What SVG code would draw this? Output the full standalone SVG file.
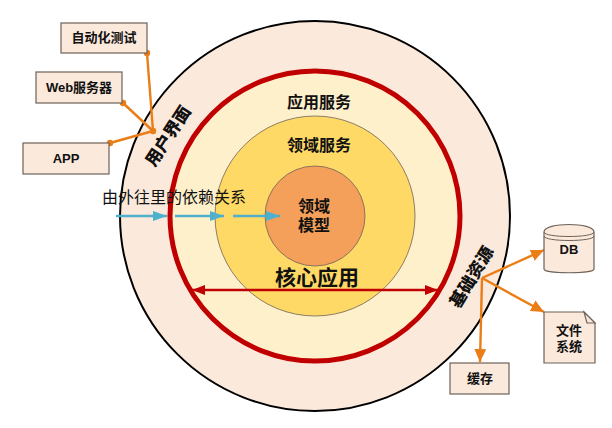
<svg xmlns="http://www.w3.org/2000/svg" width="612" height="428" viewBox="0 0 612 428">
<style>
text{font-family:"Liberation Sans","Noto Sans CJK SC",sans-serif;fill:#111;text-anchor:middle}
.b{font-weight:700;font-size:13px}
.m{font-weight:700;font-size:16px}
.r{font-weight:900;font-size:17px}
.box{fill:#fbe9dc;stroke:#6e6259;stroke-width:1.2}
.o{stroke:#ea7d16;stroke-width:2.4;fill:none}
.bl{stroke:#4fb0cc;stroke-width:2.4;fill:none}
</style>
<defs>
<marker id="ao" markerUnits="userSpaceOnUse" markerWidth="14" markerHeight="14" refX="13" refY="6" orient="auto"><path d="M0 0L13 6L0 12Z" fill="#ea7d16"/></marker>
<marker id="ab" markerUnits="userSpaceOnUse" markerWidth="15" markerHeight="12" refX="14" refY="5" orient="auto"><path d="M0 0L14 5L0 10Z" fill="#4fb0cc"/></marker>
<marker id="ar" markerUnits="userSpaceOnUse" markerWidth="15" markerHeight="12" refX="13" refY="5" orient="auto-start-reverse"><path d="M0 0L13 5L0 10Z" fill="#c00000"/></marker>
</defs>
<g id="ring-outer"><circle cx="315" cy="216" r="195" fill="#fbe9dc" stroke="#000" stroke-width="2"/></g>
<g id="ring-core"><circle cx="315" cy="216" r="145" fill="#fff0cc" stroke="#c00000" stroke-width="5"/></g>
<g id="ring-domain"><circle cx="315" cy="216" r="100" fill="#ffd966" stroke="#6e6259" stroke-width="0.8"/></g>
<g id="node-model"><circle cx="315" cy="216" r="50" fill="#f4a05a" stroke="#6e6259" stroke-width="0.8"/>
<text class="m" x="314" y="212">领域</text><text class="m" x="314" y="231">模型</text></g>
<text class="m" x="319" y="108">应用服务</text>
<text class="m" x="319" y="151">领域服务</text>
<text x="317" y="285" font-size="21" font-weight="700">核心应用</text>
<text class="r" transform="translate(168 136) rotate(-57)" y="6">用户界面</text>
<text class="r" transform="translate(471.5 277) rotate(-59)" y="6">基础资源</text>
<text x="174" y="203" font-size="16">由外往里的依赖关系</text>
<g id="connectors">
<path d="M116 216H167" class="bl" marker-end="url(#ab)"/>
<path d="M175 216H224" class="bl" marker-end="url(#ab)"/>
<path d="M233 216H280" class="bl" marker-end="url(#ab)"/>
<path d="M192 290H438" stroke="#c00000" stroke-width="2.5" fill="none" marker-start="url(#ar)" marker-end="url(#ar)"/>
<path d="M147 53L153 131M123 103L153 131M110 143L153 131" class="o"/>
<circle cx="147" cy="53" r="3.2" fill="#ea7d16"/><circle cx="123" cy="103" r="3.2" fill="#ea7d16"/><circle cx="110" cy="143" r="3.2" fill="#ea7d16"/><circle cx="153" cy="131" r="3.2" fill="#ea7d16"/>
<path d="M482 278L544 250" class="o" marker-end="url(#ao)"/>
<path d="M482 278L544 312" class="o" marker-end="url(#ao)"/>
<path d="M482 278L480 362" class="o" marker-end="url(#ao)"/>
</g>
<g id="node-autotest"><rect class="box" x="61" y="23" width="86" height="30"/><text class="b" x="104" y="42">自动化测试</text></g>
<g id="node-web"><rect class="box" x="36" y="72" width="86" height="31"/><text class="b" x="79" y="92">Web服务器</text></g>
<g id="node-app"><rect class="box" x="23" y="143" width="86" height="31"/><text class="b" x="66" y="163">APP</text></g>
<g id="node-db"><path class="box" d="M544 232V269C544 274 594 274 594 269V232C594 222 544 222 544 232Z"/><path d="M544 232C544 238 594 238 594 232M544 236C544 242 594 242 594 236" fill="none" stroke="#6e6259"/><text class="b" x="569" y="254">DB</text></g>
<g id="node-fs"><path class="box" d="M544 312H584L595 323V363H544Z"/><path class="box" d="M584 312L595 323H587L584 312Z"/><text class="b" x="569" y="335">文件</text><text class="b" x="569" y="351">系统</text></g>
<g id="node-cache"><rect class="box" x="450" y="363" width="59" height="31"/><text class="b" x="480" y="383">缓存</text></g>
</svg>
